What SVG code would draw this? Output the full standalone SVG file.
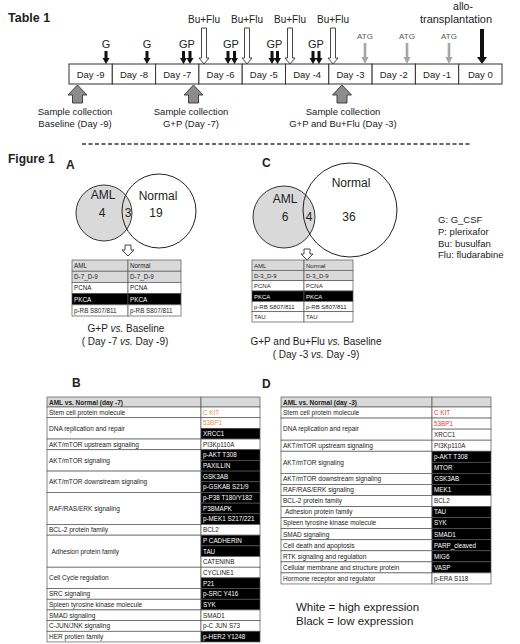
<svg xmlns="http://www.w3.org/2000/svg" xmlns:xlink="http://www.w3.org/1999/xlink" width="520" height="644" viewBox="0 0 520 644">
<defs>
<style>
text{font-family:"Liberation Sans",Arial,sans-serif;fill:#222}
.bold{font-weight:bold}
.ttl{font-size:12px;font-weight:bold}
.day{font-size:9.5px;text-anchor:middle}
.box{fill:#fff;stroke:#333;stroke-width:1}
.lbl{font-size:11px;text-anchor:middle}
.bu{font-size:10px;text-anchor:middle}
.atg{font-size:8px;text-anchor:middle;fill:#555}
.smp{font-size:9.5px;text-anchor:middle}
.venn{font-size:12px;text-anchor:middle}
.aml{fill:#d9d9d9;stroke:#333;stroke-width:1}
.nrm{fill:none;stroke:#222;stroke-width:1}
.cap{font-size:10px;text-anchor:middle}
.leg{font-size:9.5px}
.cg{fill:#d9d9d9;stroke:#555;stroke-width:0.7}
.cw{fill:#fff;stroke:#555;stroke-width:0.7}
.cb{fill:#000;stroke:#555;stroke-width:0.7}
.st{font-size:6.3px}
.sw{font-size:6.3px;fill:#fff}
.cat{font-size:6.5px}
.val{font-size:6.3px;fill:#222}
.vw{font-size:6.3px;fill:#fff}
.or{font-size:6.3px;fill:#e0924f}
.rd{font-size:6.3px;fill:#e03a3a}
.hd{font-size:6.5px;font-weight:bold}
.big{font-size:11.5px}
</style>
<polygon id="aG" points="-1.5,-13 1.5,-13 1.5,-6 3.5,-6 0,0 -3.5,-6 -1.5,-6" fill="#111"/>
<polygon id="aBu" points="-2.5,-36 2.5,-36 2.5,-6 5,-6 0,0 -5,-6 -2.5,-6" fill="#fff" stroke="#333" stroke-width="0.9"/>
<polygon id="aATG" points="-1.3,-21 1.3,-21 1.3,-7 3.5,-7 0,0 -3.5,-7 -1.3,-7" fill="#a6a6a6"/>
<polygon id="aAllo" points="-2,-35 2,-35 2,-7 5,-7 0,0 -5,-7 -2,-7" fill="#111"/>
<polygon id="aUp" points="0,0 9.5,10 5,10 5,18 -5,18 -5,10 -9.5,10" fill="#8c8c8c" stroke="#333" stroke-width="0.9"/>
<polygon id="aDn" points="-3,-11 3,-11 3,-6 6,-6 0,0 -6,-6 -3,-6" fill="#fff" stroke="#333" stroke-width="0.9"/>
</defs>
<rect width="520" height="644" fill="#fff"/>

<text class="ttl" x="8" y="22" style="font-size:12.5px">Table 1</text>

<g id="timeline">
<g id="day-9"><rect class="box" x="69" y="64" width="43.3" height="20"/><text class="day" x="90.65" y="77.5">Day -9</text></g>
<g id="day-8"><rect class="box" x="112.3" y="64" width="43.3" height="20"/><text class="day" x="133.95" y="77.5">Day -8</text></g>
<g id="day-7"><rect class="box" x="155.6" y="64" width="43.3" height="20"/><text class="day" x="177.25" y="77.5">Day -7</text></g>
<g id="day-6"><rect class="box" x="198.9" y="64" width="43.3" height="20"/><text class="day" x="220.55" y="77.5">Day -6</text></g>
<g id="day-5"><rect class="box" x="242.2" y="64" width="43.3" height="20"/><text class="day" x="263.85" y="77.5">Day -5</text></g>
<g id="day-4"><rect class="box" x="285.5" y="64" width="43.3" height="20"/><text class="day" x="307.15" y="77.5">Day -4</text></g>
<g id="day-3"><rect class="box" x="328.8" y="64" width="43.3" height="20"/><text class="day" x="350.45" y="77.5">Day -3</text></g>
<g id="day-2"><rect class="box" x="372.1" y="64" width="43.3" height="20"/><text class="day" x="393.75" y="77.5">Day -2</text></g>
<g id="day-1"><rect class="box" x="415.4" y="64" width="43.3" height="20"/><text class="day" x="437.05" y="77.5">Day -1</text></g>
<g id="day0"><rect class="box" x="458.7" y="64" width="43.3" height="20"/><text class="day" x="480.35" y="77.5">Day 0</text></g>
</g>

<g id="timeline-labels">
<text class="lbl" x="106" y="48">G</text>
<text class="lbl" x="147" y="48">G</text>
<text class="lbl" x="187" y="48">GP</text>
<text class="lbl" x="231" y="48">GP</text>
<text class="lbl" x="274.5" y="48">GP</text>
<text class="lbl" x="316" y="48">GP</text>
<text class="bu" x="204" y="23">Bu+Flu</text>
<text class="bu" x="247" y="23">Bu+Flu</text>
<text class="bu" x="290" y="23">Bu+Flu</text>
<text class="bu" x="333" y="23">Bu+Flu</text>
<text class="atg" x="365" y="39">ATG</text>
<text class="atg" x="407" y="39">ATG</text>
<text class="atg" x="449" y="39">ATG</text>
<text class="bu" x="463" y="9.5" style="font-size:10.5px">allo-</text>
<text class="bu" x="456" y="22.5" style="font-size:11px">transplantation</text>
</g>

<g id="sample-labels">
<text class="smp" x="75" y="115">Sample collection</text>
<text class="smp" x="75" y="127">Baseline (Day -9)</text>
<text class="smp" x="191" y="115">Sample collection</text>
<text class="smp" x="191" y="127">G+P (Day -7)</text>
<text class="smp" x="343" y="115">Sample collection</text>
<text class="smp" x="343" y="127">G+P and Bu+Flu (Day -3)</text>
</g>

<g id="connectors">
<use xlink:href="#aG" transform="translate(106,64)"/>
<use xlink:href="#aG" transform="translate(147,64)"/>
<use xlink:href="#aG" transform="translate(183.5,64)"/>
<use xlink:href="#aG" transform="translate(190,64)"/>
<use xlink:href="#aG" transform="translate(228,64)"/>
<use xlink:href="#aG" transform="translate(234.5,64)"/>
<use xlink:href="#aG" transform="translate(272,64)"/>
<use xlink:href="#aG" transform="translate(277.5,64)"/>
<use xlink:href="#aG" transform="translate(313,64)"/>
<use xlink:href="#aG" transform="translate(319,64)"/>
<use xlink:href="#aBu" transform="translate(204,64)"/>
<use xlink:href="#aBu" transform="translate(247,64)"/>
<use xlink:href="#aBu" transform="translate(290,64)"/>
<use xlink:href="#aBu" transform="translate(333,64)"/>
<use xlink:href="#aATG" transform="translate(365,64)"/>
<use xlink:href="#aATG" transform="translate(407,64)"/>
<use xlink:href="#aATG" transform="translate(449,64)"/>
<use xlink:href="#aAllo" transform="translate(482,64)"/>
<use xlink:href="#aUp" transform="translate(77.5,85)"/>
<use xlink:href="#aUp" transform="translate(193.5,85)"/>
<use xlink:href="#aUp" transform="translate(342,85)"/>
<use xlink:href="#aDn" transform="translate(128,256)"/>
<use xlink:href="#aDn" transform="translate(307,260)"/>
</g>

<line x1="82" y1="144" x2="470" y2="144" stroke="#333" stroke-width="1.3" stroke-dasharray="4,2.5"/>
<text class="ttl" x="8" y="163">Figure 1</text>

<g id="venn-A">
<text class="ttl" x="66" y="169">A</text>
<circle class="aml" cx="104" cy="213" r="28"/>
<circle class="nrm" cx="159" cy="211" r="37"/>
<text class="venn" x="103" y="199">AML</text>
<text class="venn" x="102" y="217">4</text>
<text class="venn" x="128" y="217">3</text>
<text class="venn" x="158" y="200">Normal</text>
<text class="venn" x="156" y="217">19</text>
</g>

<g id="table-A">
<rect class="cg" x="72" y="260" width="56" height="11.2"/><rect class="cg" x="128" y="260" width="53" height="11.2"/>
<rect class="cg" x="72" y="271.2" width="56" height="11.2"/><rect class="cg" x="128" y="271.2" width="53" height="11.2"/>
<rect class="cw" x="72" y="282.4" width="56" height="11.2"/><rect class="cw" x="128" y="282.4" width="53" height="11.2"/>
<rect class="cb" x="72" y="293.6" width="56" height="11.2"/><rect class="cb" x="128" y="293.6" width="53" height="11.2"/>
<rect class="cw" x="72" y="304.8" width="56" height="11.2"/><rect class="cw" x="128" y="304.8" width="53" height="11.2"/>
<text class="st" x="74" y="268">AML</text><text class="st" x="130" y="268">Normal</text>
<text class="st" x="74" y="279.2">D-7_D-9</text><text class="st" x="130" y="279.2">D-7_D-9</text>
<text class="st" x="74" y="290.4">PCNA</text><text class="st" x="130" y="290.4">PCNA</text>
<text class="sw" x="74" y="301.6">PKCA</text><text class="sw" x="130" y="301.6">PKCA</text>
<text class="st" x="74" y="312.8">p-RB S807/811</text><text class="st" x="130" y="312.8">p-RB S807/811</text>
</g>
<text class="cap" x="126" y="332">G+P <tspan font-style="italic">vs.</tspan> Baseline</text>
<text class="cap" x="125" y="345">( Day -7 <tspan font-style="italic">vs.</tspan> Day -9)</text>

<g id="venn-C">
<text class="ttl" x="262" y="167">C</text>
<circle class="aml" cx="284" cy="217" r="31"/>
<circle class="nrm" cx="350" cy="210" r="47"/>
<text class="venn" x="285" y="203">AML</text>
<text class="venn" x="285" y="221">6</text>
<text class="venn" x="309" y="221">4</text>
<text class="venn" x="351" y="187">Normal</text>
<text class="venn" x="349" y="221">36</text>
</g>

<g id="legend-abbr">
<text class="leg" x="438" y="223">G: G_CSF</text>
<text class="leg" x="438" y="235">P: plerixafor</text>
<text class="leg" x="438" y="246.5">Bu: busulfan</text>
<text class="leg" x="438" y="258">Flu: fludarabine</text>
</g>

<g id="table-C">
<rect class="cg" x="252" y="260" width="52" height="10.33"/><rect class="cg" x="304" y="260" width="49" height="10.33"/>
<rect class="cg" x="252" y="270.33" width="52" height="10.33"/><rect class="cg" x="304" y="270.33" width="49" height="10.33"/>
<rect class="cw" x="252" y="280.67" width="52" height="10.33"/><rect class="cw" x="304" y="280.67" width="49" height="10.33"/>
<rect class="cb" x="252" y="291" width="52" height="10.33"/><rect class="cb" x="304" y="291" width="49" height="10.33"/>
<rect class="cw" x="252" y="301.33" width="52" height="10.33"/><rect class="cw" x="304" y="301.33" width="49" height="10.33"/>
<rect class="cw" x="252" y="311.67" width="52" height="10.33"/><rect class="cw" x="304" y="311.67" width="49" height="10.33"/>
<text class="st" x="254" y="267.6" style="font-size:6px">AML</text><text class="st" x="306" y="267.6" style="font-size:6px">Normal</text>
<text class="st" x="254" y="277.9" style="font-size:6px">D-3_D-9</text><text class="st" x="306" y="277.9" style="font-size:6px">D-3_D-9</text>
<text class="st" x="254" y="288.2" style="font-size:6px">PCNA</text><text class="st" x="306" y="288.2" style="font-size:6px">PCNA</text>
<text class="sw" x="254" y="298.5" style="font-size:6px">PKCA</text><text class="sw" x="306" y="298.5" style="font-size:6px">PKCA</text>
<text class="st" x="254" y="308.9" style="font-size:6px">p-RB S807/811</text><text class="st" x="306" y="308.9" style="font-size:6px">p-RB S807/811</text>
<text class="st" x="254" y="319.2" style="font-size:6px">TAU</text><text class="st" x="306" y="319.2" style="font-size:6px">TAU</text>
</g>
<text class="cap" x="316" y="345">G+P and Bu+Flu <tspan font-style="italic">vs.</tspan> Baseline</text>
<text class="cap" x="316" y="358">( Day -3 <tspan font-style="italic">vs.</tspan> Day -9)</text>

<text class="ttl" x="72" y="387">B</text>
<g id="table-B">
<rect class="cg" x="47" y="397" width="154" height="10"/><rect class="cg" x="201" y="397" width="59" height="10"/>
<text class="hd" x="49" y="404.5">AML vs. Normal (day -7)</text>
<rect class="cw" x="47" y="407" width="154" height="10.68"/>
<rect class="cw" x="47" y="417.68" width="154" height="21.36"/>
<rect class="cw" x="47" y="439.04" width="154" height="10.68"/>
<rect class="cw" x="47" y="449.72" width="154" height="21.36"/>
<rect class="cw" x="47" y="471.08" width="154" height="21.36"/>
<rect class="cw" x="47" y="492.44" width="154" height="32.04"/>
<rect class="cw" x="47" y="524.48" width="154" height="10.68"/>
<rect class="cw" x="47" y="535.16" width="154" height="32.04"/>
<rect class="cw" x="47" y="567.2" width="154" height="21.36"/>
<rect class="cw" x="47" y="588.56" width="154" height="10.68"/>
<rect class="cw" x="47" y="599.24" width="154" height="10.68"/>
<rect class="cw" x="47" y="609.92" width="154" height="10.68"/>
<rect class="cw" x="47" y="620.6" width="154" height="10.68"/>
<rect class="cw" x="47" y="631.28" width="154" height="10.68"/>
<text class="cat" x="49" y="414.6">Stem cell protein molecule</text>
<text class="cat" x="49" y="430.7">DNA replication and repair</text>
<text class="cat" x="49" y="446.7">AKT/mTOR upstream signaling</text>
<text class="cat" x="49" y="462.7">AKT/mTOR signaling</text>
<text class="cat" x="49" y="484.1">AKT/mTOR downstream signaling</text>
<text class="cat" x="49" y="510.8">RAF/RAS/ERK signaling</text>
<text class="cat" x="49" y="532.2">BCL-2 protein family</text>
<text class="cat" x="51.5" y="553.5">Adhesion protein family</text>
<text class="cat" x="49" y="580.2">Cell Cycle regulation</text>
<text class="cat" x="49" y="596.2">SRC signaling</text>
<text class="cat" x="49" y="606.9">Spleen tyrosine kinase molecule</text>
<text class="cat" x="49" y="617.6">SMAD signaling</text>
<text class="cat" x="49" y="628.3">C-JUN/JNK signaling</text>
<text class="cat" x="49" y="638.9">HER protien family</text>
<rect class="cw" x="201" y="407" width="59" height="10.68"/>
<rect class="cw" x="201" y="417.68" width="59" height="10.68"/>
<rect class="cb" x="201" y="428.36" width="59" height="10.68"/>
<rect class="cw" x="201" y="439.04" width="59" height="10.68"/>
<rect class="cb" x="201" y="449.72" width="59" height="10.68"/>
<rect class="cb" x="201" y="460.4" width="59" height="10.68"/>
<rect class="cb" x="201" y="471.08" width="59" height="10.68"/>
<rect class="cb" x="201" y="481.76" width="59" height="10.68"/>
<rect class="cb" x="201" y="492.44" width="59" height="10.68"/>
<rect class="cb" x="201" y="503.12" width="59" height="10.68"/>
<rect class="cb" x="201" y="513.8" width="59" height="10.68"/>
<rect class="cw" x="201" y="524.48" width="59" height="10.68"/>
<rect class="cb" x="201" y="535.16" width="59" height="10.68"/>
<rect class="cb" x="201" y="545.84" width="59" height="10.68"/>
<rect class="cw" x="201" y="556.52" width="59" height="10.68"/>
<rect class="cw" x="201" y="567.2" width="59" height="10.68"/>
<rect class="cb" x="201" y="577.88" width="59" height="10.68"/>
<rect class="cb" x="201" y="588.56" width="59" height="10.68"/>
<rect class="cb" x="201" y="599.24" width="59" height="10.68"/>
<rect class="cw" x="201" y="609.92" width="59" height="10.68"/>
<rect class="cw" x="201" y="620.6" width="59" height="10.68"/>
<rect class="cb" x="201" y="631.28" width="59" height="10.68"/>
<text class="or" x="203" y="414.6">C KIT</text>
<text class="or" x="203" y="425.3">53BP1</text>
<text class="vw" x="203" y="436.0">XRCC1</text>
<text class="val" x="203" y="446.7">PI3Kp110A</text>
<text class="vw" x="203" y="457.4">p-AKT T308</text>
<text class="vw" x="203" y="468.0">PAXILLIN</text>
<text class="vw" x="203" y="478.7">GSK3AB</text>
<text class="vw" x="203" y="489.4">p-GSKAB S21/9</text>
<text class="vw" x="203" y="500.1">p-P38 T180/Y182</text>
<text class="vw" x="203" y="510.8">P38MAPK</text>
<text class="vw" x="203" y="521.4">p-MEK1 S217/221</text>
<text class="val" x="203" y="532.1">BCL2</text>
<text class="vw" x="203" y="542.8">P CADHERIN</text>
<text class="vw" x="203" y="553.5">TAU</text>
<text class="val" x="203" y="564.2">CATENINB</text>
<text class="val" x="203" y="574.9">CYCLINE1</text>
<text class="vw" x="203" y="585.5">P21</text>
<text class="vw" x="203" y="596.2">p-SRC Y416</text>
<text class="vw" x="203" y="606.9">SYK</text>
<text class="val" x="203" y="617.6">SMAD1</text>
<text class="val" x="203" y="628.3">p-C JUN S73</text>
<text class="vw" x="203" y="638.9">p-HER2 Y1248</text>
</g>

<text class="ttl" x="262" y="388">D</text>
<g id="table-D">
<rect class="cg" x="281" y="397" width="151" height="10"/><rect class="cg" x="432" y="397" width="59" height="10"/>
<text class="hd" x="283" y="404.5">AML vs. Normal (day -3)</text>
<rect class="cw" x="281" y="407" width="151" height="11.06"/>
<rect class="cw" x="281" y="418.06" width="151" height="22.12"/>
<rect class="cw" x="281" y="440.18" width="151" height="11.06"/>
<rect class="cw" x="281" y="451.24" width="151" height="22.12"/>
<rect class="cw" x="281" y="473.36" width="151" height="11.06"/>
<rect class="cw" x="281" y="484.42" width="151" height="11.06"/>
<rect class="cw" x="281" y="495.48" width="151" height="11.06"/>
<rect class="cw" x="281" y="506.54" width="151" height="11.06"/>
<rect class="cw" x="281" y="517.6" width="151" height="11.06"/>
<rect class="cw" x="281" y="528.66" width="151" height="11.06"/>
<rect class="cw" x="281" y="539.72" width="151" height="11.06"/>
<rect class="cw" x="281" y="550.78" width="151" height="11.06"/>
<rect class="cw" x="281" y="561.84" width="151" height="11.06"/>
<rect class="cw" x="281" y="572.9" width="151" height="11.06"/>
<text class="cat" x="283" y="414.8">Stem cell protein molecule</text>
<text class="cat" x="283" y="431.4">DNA replication and repair</text>
<text class="cat" x="283" y="448.0">AKT/mTOR upstream signaling</text>
<text class="cat" x="283" y="464.6">AKT/mTOR signaling</text>
<text class="cat" x="283" y="481.2">AKT/mTOR downstream signaling</text>
<text class="cat" x="283" y="492.3">RAF/RAS/ERK signaling</text>
<text class="cat" x="283" y="503.3">BCL-2 protein family</text>
<text class="cat" x="285" y="514.4">Adhesion protein family</text>
<text class="cat" x="283" y="525.4">Spleen tyrosine kinase molecule</text>
<text class="cat" x="283" y="536.5">SMAD signaling</text>
<text class="cat" x="283" y="547.6">Cell death and apoptosis</text>
<text class="cat" x="283" y="558.6">RTK signaling and regulation</text>
<text class="cat" x="283" y="569.7">Cellular membrane and structure protein</text>
<text class="cat" x="283" y="580.7">Hormone receptor and regulator</text>
<rect class="cw" x="432" y="407" width="59" height="11.06"/>
<rect class="cw" x="432" y="418.06" width="59" height="11.06"/>
<rect class="cw" x="432" y="429.12" width="59" height="11.06"/>
<rect class="cw" x="432" y="440.18" width="59" height="11.06"/>
<rect class="cb" x="432" y="451.24" width="59" height="11.06"/>
<rect class="cb" x="432" y="462.3" width="59" height="11.06"/>
<rect class="cb" x="432" y="473.36" width="59" height="11.06"/>
<rect class="cb" x="432" y="484.42" width="59" height="11.06"/>
<rect class="cw" x="432" y="495.48" width="59" height="11.06"/>
<rect class="cb" x="432" y="506.54" width="59" height="11.06"/>
<rect class="cb" x="432" y="517.6" width="59" height="11.06"/>
<rect class="cb" x="432" y="528.66" width="59" height="11.06"/>
<rect class="cb" x="432" y="539.72" width="59" height="11.06"/>
<rect class="cb" x="432" y="550.78" width="59" height="11.06"/>
<rect class="cb" x="432" y="561.84" width="59" height="11.06"/>
<rect class="cw" x="432" y="572.9" width="59" height="11.06"/>
<text class="rd" x="434" y="414.8">C KIT</text>
<text class="rd" x="434" y="425.9">53BP1</text>
<text class="val" x="434" y="437.0">XRCC1</text>
<text class="val" x="434" y="448.0">PI3Kp110A</text>
<text class="vw" x="434" y="459.1">p-AKT T308</text>
<text class="vw" x="434" y="470.1">MTOR</text>
<text class="vw" x="434" y="481.2">GSK3AB</text>
<text class="vw" x="434" y="492.3">MEK1</text>
<text class="val" x="434" y="503.3">BCL2</text>
<text class="vw" x="434" y="514.4">TAU</text>
<text class="vw" x="434" y="525.4">SYK</text>
<text class="vw" x="434" y="536.5">SMAD1</text>
<text class="vw" x="434" y="547.6">PARP_cleaved</text>
<text class="vw" x="434" y="558.6">MIG6</text>
<text class="vw" x="434" y="569.7">VASP</text>
<text class="val" x="434" y="580.7">p-ERA S118</text>
</g>

<g id="legend-expression">
<text class="big" x="296" y="611">White = high expression</text>
<text class="big" x="296" y="625">Black = low expression</text>
</g>
</svg>
